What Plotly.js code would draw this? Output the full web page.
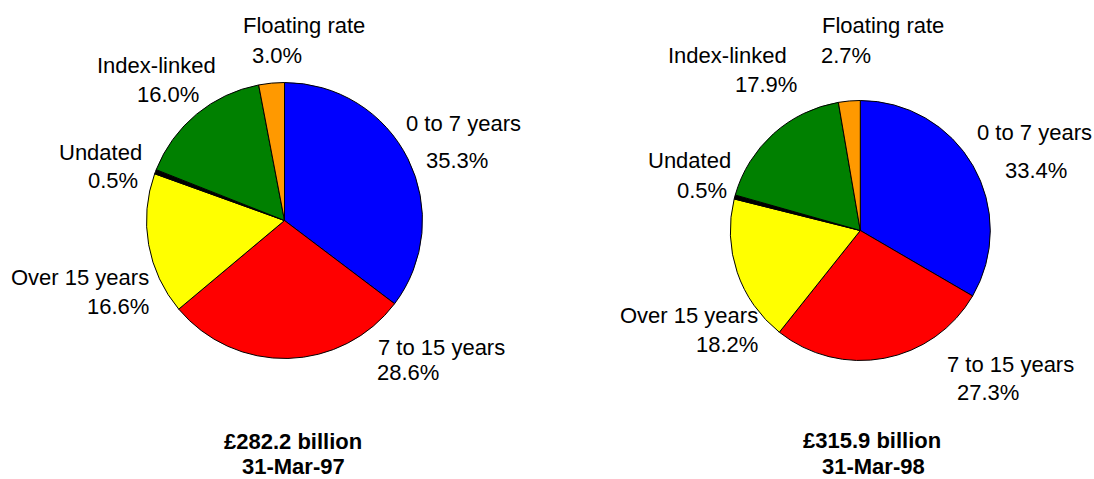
<!DOCTYPE html>
<html>
<head>
<meta charset="utf-8">
<script src="https://cdn.plot.ly/plotly-3.0.1.min.js"></script>
<style>
html,body{margin:0;padding:0;background:#fff;}
#chart{width:1094px;height:479px;}
</style>
</head>
<body>
<div id="chart"></div>
<script>
// ---- data ----
const categories = ['0 to 7 years', '7 to 15 years', 'Over 15 years', 'Undated', 'Index-linked', 'Floating rate'];
const values1997 = [35.3, 28.6, 16.6, 0.5, 16.0, 3.0];
const values1998 = [33.4, 27.3, 18.2, 0.5, 17.9, 2.7];
const totals = ['£282.2 billion', '£315.9 billion'];
const dates = ['31-Mar-97', '31-Mar-98'];

// ---- styling / layout ----
const W = 1094, H = 479;
const sliceColors = ['#0000FF', '#FF0000', '#FFFF00', '#000000', '#008000', '#FF9900'];
const FONT = 'Liberation Sans, Arial, sans-serif';
const FS = 22;

function px2x(px) { return px / W; }
function px2y(py) { return (H - py) / H; }

const pies = [
  { values: values1997, cx: 284.5, cy: 220.5, r: 138,
    labelPos: [[464, 130.7, 456.7, 168.3], [441.7, 355, 408.3, 380], [80, 285, 118.3, 314],
               [100.8, 160, 112.5, 188.3], [156.7, 73.3, 167.5, 101.7], [304, 33.3, 276.7, 63.3]],
    titlePos: [293.3, 449.5, 293, 474] },
  { values: values1998, cx: 860.3, cy: 230.5, r: 130,
    labelPos: [[1034, 140, 1036, 178.3], [1010.8, 371.7, 987.5, 400], [688.8, 323.3, 727, 351.7],
               [689.7, 168.3, 701.7, 198.3], [727, 63.3, 766, 91.7], [882.5, 33.3, 846, 63.3]],
    titlePos: [871.7, 448, 873.3, 474] }
];

const traces = [];
const annotations = [];
const baseOff = 0.345 * FS;

pies.forEach((p, i) => {
  traces.push({
    type: 'pie',
    labels: categories,
    values: p.values,
    sort: false,
    direction: 'clockwise',
    rotation: 0,
    textinfo: 'none',
    hoverinfo: 'label+percent',
    marker: { colors: sliceColors, line: { color: '#000000', width: 1 } },
    domain: {
      x: [px2x(p.cx - p.r), px2x(p.cx + p.r)],
      y: [px2y(p.cy + p.r), px2y(p.cy - p.r)]
    },
    showlegend: false
  });
  categories.forEach((c, k) => {
    const lp = p.labelPos[k];
    annotations.push({
      xref: 'paper', yref: 'paper', x: px2x(lp[0]), y: px2y(lp[1] - baseOff),
      xanchor: 'center', yanchor: 'middle', showarrow: false, borderpad: 0,
      text: c, font: { family: FONT, size: FS, color: '#000' }
    });
    annotations.push({
      xref: 'paper', yref: 'paper', x: px2x(lp[2]), y: px2y(lp[3] - baseOff),
      xanchor: 'center', yanchor: 'middle', showarrow: false, borderpad: 0,
      text: p.values[k].toFixed(1) + '%', font: { family: FONT, size: FS, color: '#000' }
    });
  });
  const tp = p.titlePos;
  annotations.push({
    xref: 'paper', yref: 'paper', x: px2x(tp[0]), y: px2y(tp[1] - baseOff),
    xanchor: 'center', yanchor: 'middle', showarrow: false, borderpad: 0,
    text: '<b>' + totals[i] + '</b>', font: { family: FONT, size: FS, color: '#000' }
  });
  annotations.push({
    xref: 'paper', yref: 'paper', x: px2x(tp[2]), y: px2y(tp[3] - baseOff),
    xanchor: 'center', yanchor: 'middle', showarrow: false, borderpad: 0,
    text: '<b>' + dates[i] + '</b>', font: { family: FONT, size: FS, color: '#000' }
  });
});

const layout = {
  width: W, height: H,
  margin: { l: 0, r: 0, t: 0, b: 0, pad: 0 },
  paper_bgcolor: '#ffffff',
  plot_bgcolor: '#ffffff',
  font: { family: FONT, size: FS, color: '#000' },
  showlegend: false,
  annotations: annotations
};

Plotly.newPlot('chart', traces, layout, { displayModeBar: false, staticPlot: true });
</script>
</body>
</html>
